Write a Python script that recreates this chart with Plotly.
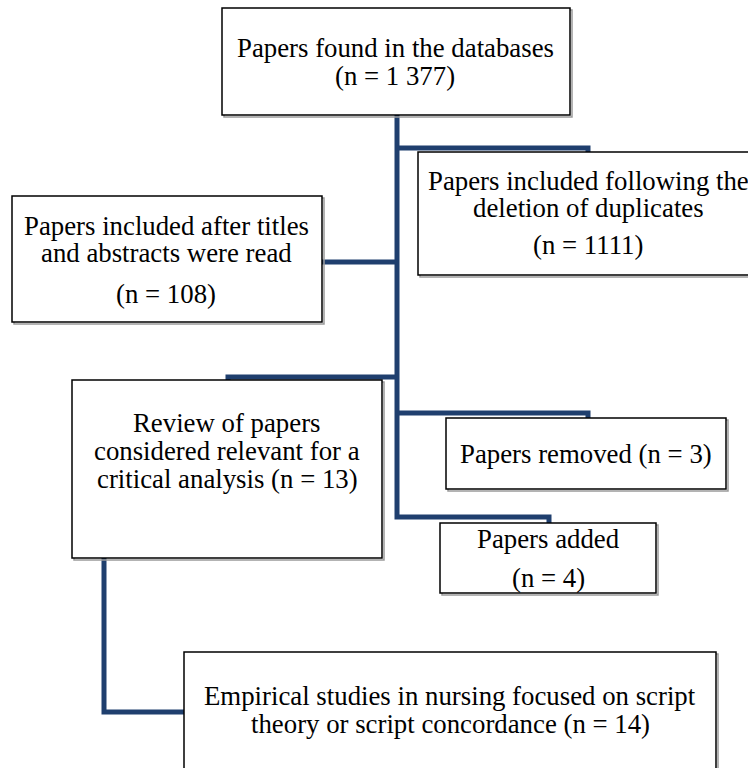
import plotly.graph_objects as go

# ---- content ----
box_names = ["found", "dedup", "screened", "review", "removed", "added", "final"]
box_lines = [
    ["Papers found in the databases", "(n = 1 377)"],
    ["Papers included following the", "deletion of duplicates", "(n = 1111)"],
    ["Papers included after titles", "and abstracts were read", "(n = 108)"],
    ["Review of papers", "considered relevant for a", "critical analysis (n = 13)"],
    ["Papers removed (n = 3)"],
    ["Papers added", "(n = 4)"],
    ["Empirical studies in nursing focused on script", "theory or script concordance (n = 14)"],
]

# ---- layout (pixel space) ----
boxes = {
    "found":    (222, 8, 570, 115),
    "dedup":    (418, 152, 752, 275),
    "screened": (12, 196, 322, 322),
    "review":   (72, 380, 382, 558),
    "removed":  (446, 418, 726, 489),
    "added":    (440, 523, 656, 593),
    "final":    (184, 652, 716, 772),
}
text_y = {
    "found": [48, 76],
    "dedup": [181, 208, 245],
    "screened": [226, 253, 294],
    "review": [423, 451, 479],
    "removed": [454],
    "added": [539, 578],
    "final": [696, 724],
}
text_x = {
    "found": 395, "dedup": 588, "screened": 166, "review": 227,
    "removed": 586, "added": 548, "final": 450,
}

connectors = [
    [(397, 115), (397, 517), (549, 517), (549, 523)],
    [(397, 148), (588, 148), (588, 152)],
    [(322, 262), (397, 262)],
    [(228, 380), (228, 377), (397, 377)],
    [(397, 413), (588, 413), (588, 418)],
    [(104, 558), (104, 712), (184, 712)],
]

NAVY = "#1F3F6E"
FONT = "Liberation Serif, Times New Roman, serif"

fig = go.Figure()
shapes = []
for pts in connectors:
    path = "M " + " L ".join(f"{x},{y}" for x, y in pts)
    shapes.append(dict(type="path", path=path, xref="x", yref="y",
                       line=dict(color=NAVY, width=5), layer="below"))
for name in box_names:
    x0, y0, x1, y1 = boxes[name]
    shapes.append(dict(type="rect", x0=x0 + 2, y0=y0 + 2, x1=x1 + 2, y1=y1 + 2,
                       xref="x", yref="y", line=dict(color="#9a9a9a", width=1.5),
                       fillcolor="rgba(0,0,0,0)", layer="above"))
    shapes.append(dict(type="rect", x0=x0, y0=y0, x1=x1, y1=y1,
                       xref="x", yref="y", line=dict(color="black", width=1.5),
                       fillcolor="white", layer="above"))

annotations = []
for name, lines in zip(box_names, box_lines):
    for line, y in zip(lines, text_y[name]):
        annotations.append(dict(x=text_x[name], y=y, xref="x", yref="y",
                                text=line, showarrow=False,
                                font=dict(family=FONT, size=26.8, color="black"),
                                xanchor="center", yanchor="middle"))

fig.update_layout(
    width=748, height=768,
    margin=dict(l=0, r=0, t=0, b=0),
    paper_bgcolor="white", plot_bgcolor="white",
    xaxis=dict(range=[0, 748], visible=False, fixedrange=True),
    yaxis=dict(range=[768, 0], visible=False, fixedrange=True),
    shapes=shapes, annotations=annotations, showlegend=False,
)
fig.write_html("out.html", config={"displayModeBar": False},
               post_script="document.body.style.margin='0';document.body.style.overflow='hidden';")
